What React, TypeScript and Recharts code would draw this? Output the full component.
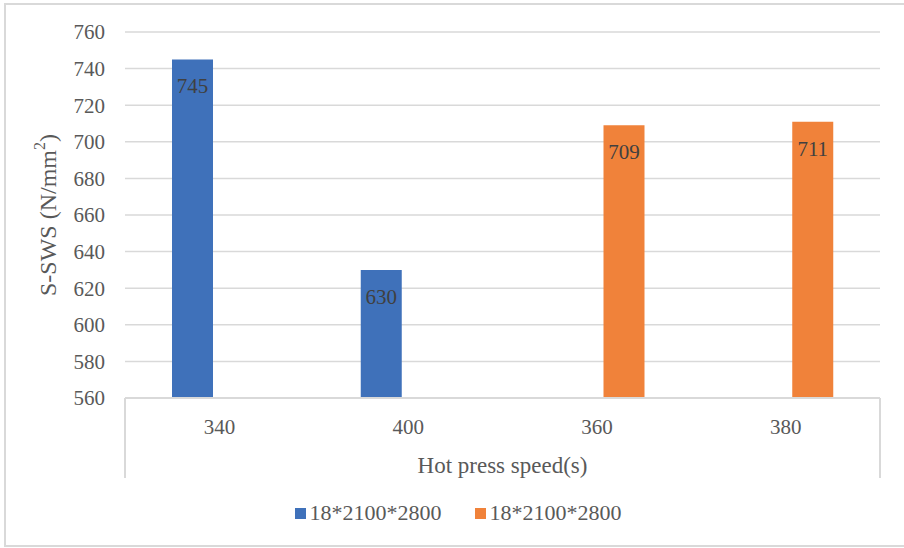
import React from 'react';
import { BarChart, Bar, XAxis, YAxis, CartesianGrid, Legend, LabelList, usePlotArea } from 'recharts';

// Hot press speed vs. S-SWS, two panel sizes (both labelled the same in the source)
const categories = ['340', '400', '360', '380'];
const seriesBlue = [745, 630, null, null];
const seriesOrange = [null, null, 709, 711];
const yTicks = [560, 580, 600, 620, 640, 660, 680, 700, 720, 740, 760];
const seriesNames = ['18*2100*2800', '18*2100*2800'];

const BLUE = '#3F71BA';
const ORANGE = '#F0823A';
const GRID = '#D9D9D9';
const TEXT = '#595959';
const FONT = "'Liberation Serif', 'Times New Roman', serif";

const data = categories.map((c, i) => ({
  name: c,
  blue: seriesBlue[i],
  orange: seriesOrange[i],
}));

// side walls of the category-axis box, under the plot area
function AxisBox() {
  const area = usePlotArea();
  if (!area) return null;
  const bottom = area.y + area.height;
  return (
    <g>
      <line x1={area.x} y1={bottom} x2={area.x} y2={bottom + 80} stroke={GRID} strokeWidth={2} />
      <line x1={area.x + area.width} y1={bottom} x2={area.x + area.width} y2={bottom + 80} stroke={GRID} strokeWidth={2} />
    </g>
  );
}

// eslint-disable-next-line @typescript-eslint/no-explicit-any
function YTitle({ viewBox }: any) {
  const cx = viewBox.x + 48;
  const cy = viewBox.y + viewBox.height / 2;
  return (
    <text
      x={cx}
      y={cy}
      transform={`rotate(-90, ${cx}, ${cy})`}
      textAnchor="middle"
      dominantBaseline="central"
      fill={TEXT}
      fontSize={24}
      fontFamily={FONT}
    >
      S-SWS (N/mm
      <tspan fontSize={16} dy={-9}>2</tspan>
      <tspan dy={9}>)</tspan>
    </text>
  );
}

// eslint-disable-next-line @typescript-eslint/no-explicit-any
function XTitle({ viewBox }: any) {
  return (
    <text
      x={viewBox.x + viewBox.width / 2}
      y={viewBox.y + 75}
      textAnchor="middle"
      fill={TEXT}
      fontSize={23}
      fontFamily={FONT}
    >
      Hot press speed(s)
    </text>
  );
}

function LegendContent() {
  const colors = [BLUE, ORANGE];
  return (
    <div
      style={{
        height: 26,
        display: 'flex',
        justifyContent: 'center',
        alignItems: 'center',
        gap: 33,
        paddingLeft: 36,
        fontFamily: FONT,
        fontSize: 22,
        color: TEXT,
      }}
    >
      {seriesNames.map((n, i) => (
        <div key={i} style={{ display: 'flex', alignItems: 'center', gap: 4 }}>
          <span style={{ width: 11, height: 11, background: colors[i], display: 'inline-block' }} />
          <span>{n}</span>
        </div>
      ))}
    </div>
  );
}

export default function App() {
  return (
    <div style={{ position: 'absolute', left: 0, top: 0, width: 904, height: 548, overflow: 'hidden', background: '#fff' }}>
      <div
        style={{
          position: 'absolute',
          left: 4,
          top: 3,
          width: 1000,
          height: 544,
          border: `2px solid ${GRID}`,
          boxSizing: 'border-box',
        }}
      />
      <BarChart
        width={904}
        height={548}
        data={data}
        margin={{ top: 32, right: 24, left: 0, bottom: 44 }}
        barSize={41}
        barGap={13}
      >
        <CartesianGrid vertical={false} stroke={GRID} strokeWidth={1.5} />
        <XAxis
          dataKey="name"
          height={80}
          axisLine={{ stroke: GRID, strokeWidth: 2 }}
          tickLine={false}
          tickMargin={15}
          tick={{ fill: TEXT, fontSize: 21, fontFamily: FONT }}
          label={<XTitle />}
        />
        <YAxis
          width={125}
          domain={[560, 760]}
          ticks={yTicks}
          allowDataOverflow
          axisLine={false}
          tickLine={false}
          tickMargin={14}
          tick={{ fill: TEXT, fontSize: 21, fontFamily: FONT }}
          label={<YTitle />}
        />
        <Legend content={<LegendContent />} verticalAlign="bottom" wrapperStyle={{ bottom: 22 }} />
        <Bar dataKey="blue" fill={BLUE} isAnimationActive={false}>
          <LabelList dataKey="blue" position="insideTop" offset={19} style={{ fill: '#404040', fontSize: 21, fontFamily: FONT }} />
        </Bar>
        <Bar dataKey="orange" fill={ORANGE} isAnimationActive={false}>
          <LabelList dataKey="orange" position="insideTop" offset={19} style={{ fill: '#404040', fontSize: 21, fontFamily: FONT }} />
        </Bar>
        <AxisBox />
      </BarChart>
    </div>
  );
}
